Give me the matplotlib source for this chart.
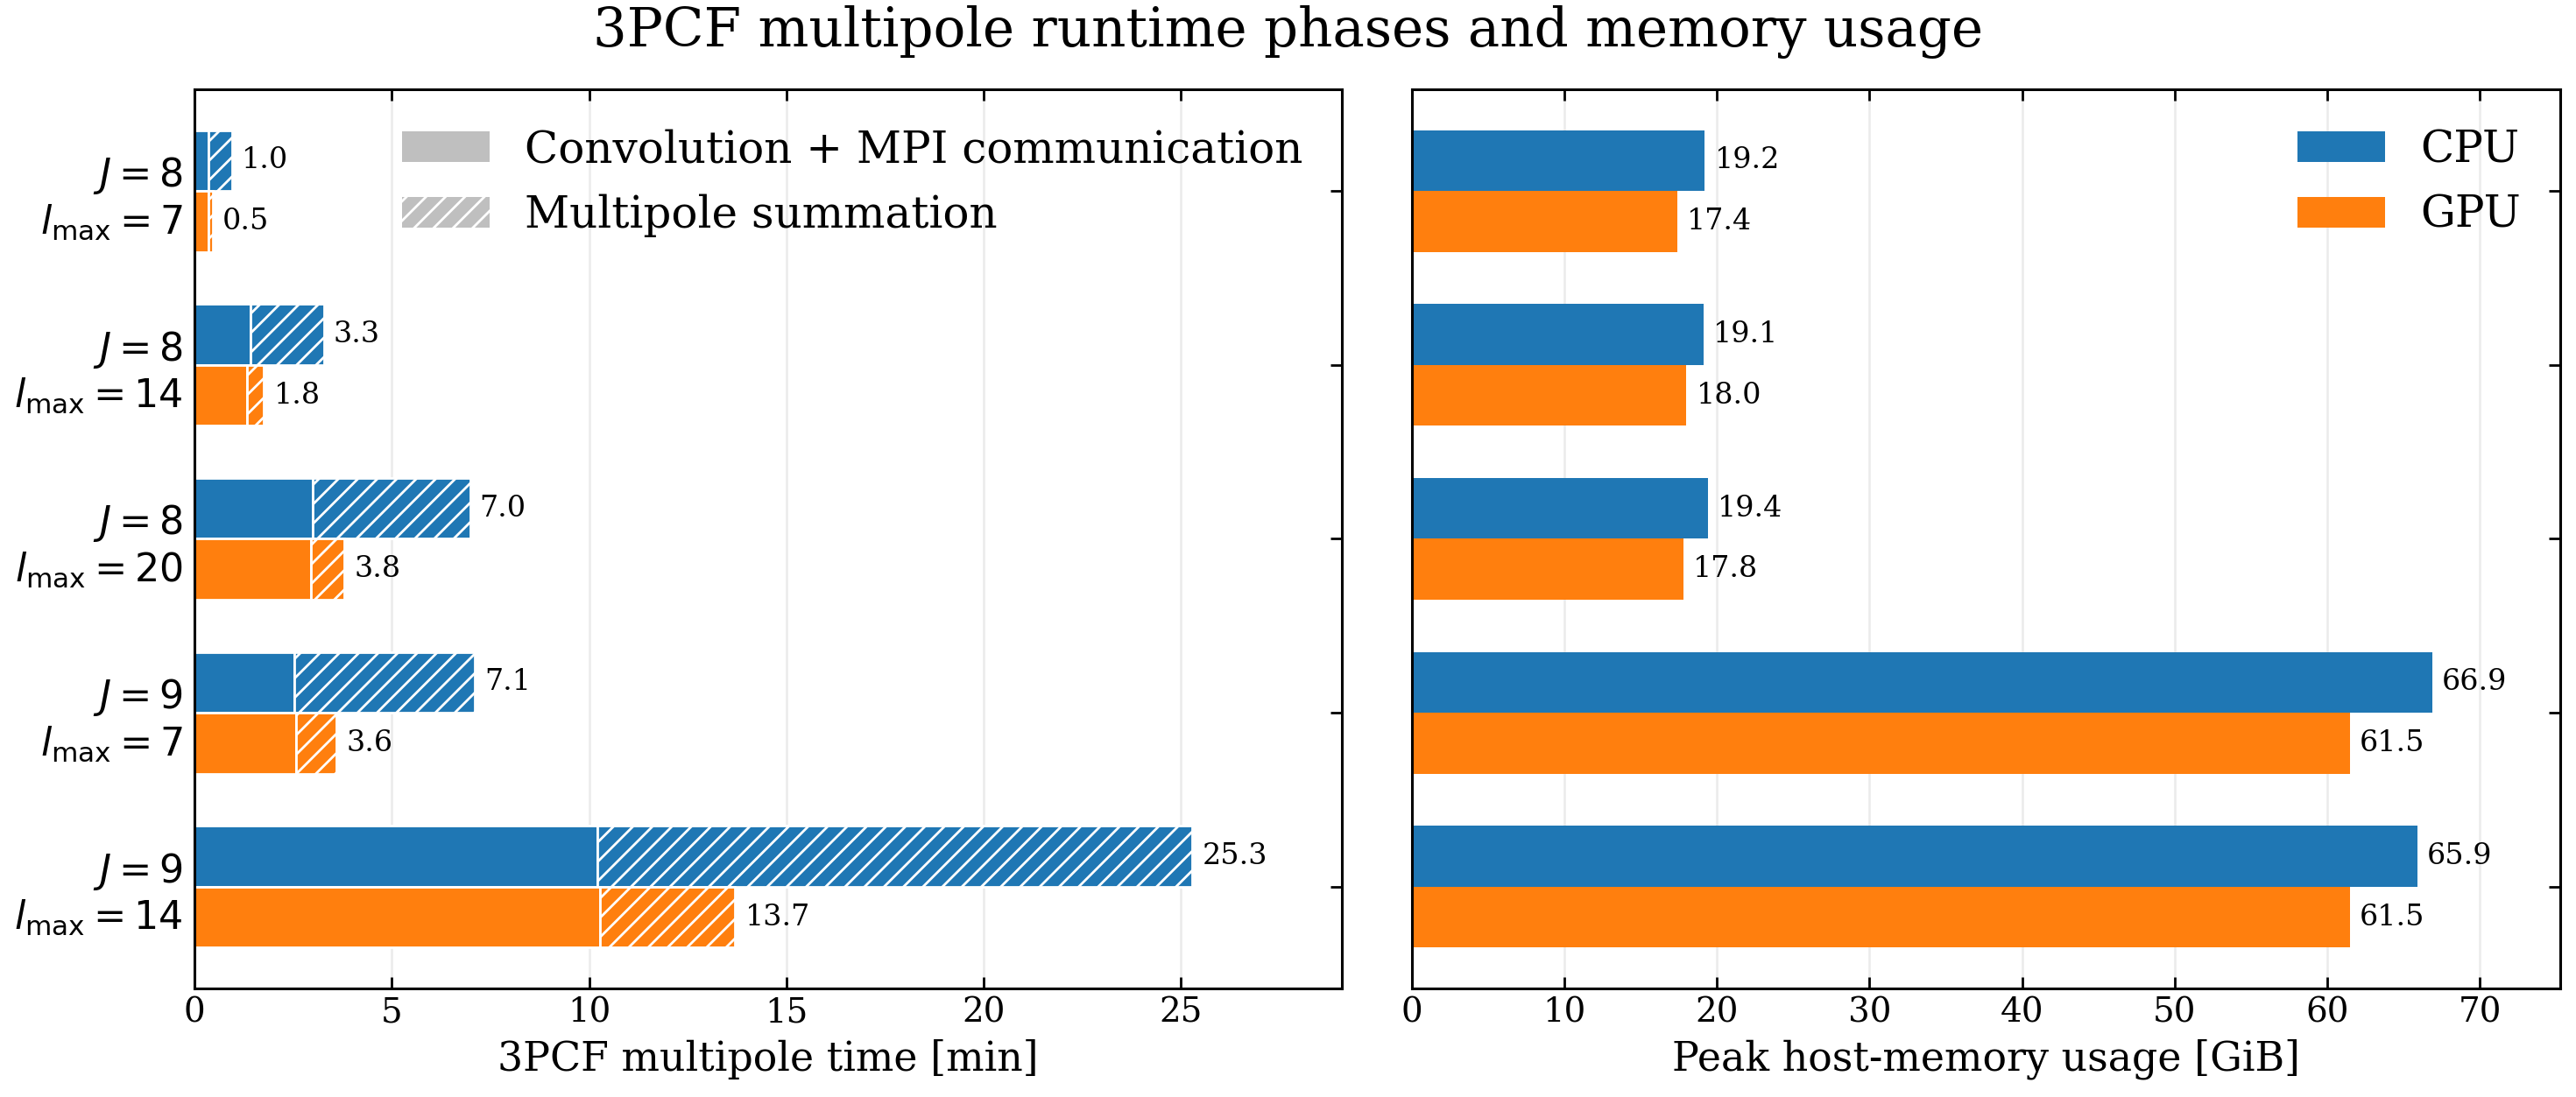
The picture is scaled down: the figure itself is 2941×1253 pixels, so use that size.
import matplotlib
matplotlib.use("Agg")
import matplotlib.pyplot as plt
import numpy as np
from matplotlib.patches import Patch

# ---- data ----
configs = ["$J = 8$\n$l_{\\max} = 7$", "$J = 8$\n$l_{\\max} = 14$", "$J = 8$\n$l_{\\max} = 20$",
           "$J = 9$\n$l_{\\max} = 7$", "$J = 9$\n$l_{\\max} = 14$"]
cpu_conv = [0.36, 1.41, 2.99, 2.52, 10.21]
cpu_summ = [0.60, 1.87, 3.99, 4.58, 15.07]
gpu_conv = [0.35, 1.32, 2.96, 2.57, 10.28]
gpu_summ = [0.11, 0.44, 0.84, 1.03, 3.42]
cpu_mem = [19.2, 19.1, 19.4, 66.9, 65.9]
gpu_mem = [17.4, 18.0, 17.8, 61.5, 61.5]

CPU_C = "#1f77b4"
GPU_C = "#ff7f0e"

plt.rcParams["font.family"] = ["DejaVu Serif"]
plt.rcParams["mathtext.fontset"] = "dejavusans"
plt.rcParams["hatch.color"] = "white"
plt.rcParams["hatch.linewidth"] = 1.0

fig = plt.figure(figsize=(2941 / 200, 1253 / 200), dpi=200)
ax1 = fig.add_axes([0.0755, 0.0990, 0.4454, 0.8196])
ax2 = fig.add_axes([0.5481, 0.0990, 0.4457, 0.8196], sharey=ax1)

y = np.arange(len(configs))
h = 0.35

cpu_tot = np.array(cpu_conv) + np.array(cpu_summ)
gpu_tot = np.array(gpu_conv) + np.array(gpu_summ)

ax1.barh(y - h / 2, cpu_conv, height=h, color=CPU_C, edgecolor="white", linewidth=1)
ax1.barh(y - h / 2, cpu_summ, left=cpu_conv, height=h, color=CPU_C, edgecolor="white",
         linewidth=1, hatch="///")
ax1.barh(y + h / 2, gpu_conv, height=h, color=GPU_C, edgecolor="white", linewidth=1)
ax1.barh(y + h / 2, gpu_summ, left=gpu_conv, height=h, color=GPU_C, edgecolor="white",
         linewidth=1, hatch="///")

for yi, v in zip(y, cpu_tot):
    ax1.annotate(f"{v:.1f}", (v, yi - h / 2), xytext=(4, 0), textcoords="offset points",
                 va="center", ha="left", fontsize=12)
for yi, v in zip(y, gpu_tot):
    ax1.annotate(f"{v:.1f}", (v, yi + h / 2), xytext=(4, 0), textcoords="offset points",
                 va="center", ha="left", fontsize=12)

ax1.set_xlim(0, cpu_tot.max() * 1.15)
ax1.set_yticks(y)
ax1.set_yticklabels(configs)
ax1.invert_yaxis()
ax1.set_xlabel("3PCF multipole time [min]", fontsize=16.5)

leg_handles = [Patch(facecolor="#bfbfbf", edgecolor="white", linewidth=0, label="Convolution + MPI communication"),
               Patch(facecolor="#bfbfbf", edgecolor="white", hatch="///", linewidth=0, label="Multipole summation")]
ax1.legend(handles=leg_handles, loc="upper right", frameon=False, fontsize=18)

# right panel
ax2.barh(y - h / 2, cpu_mem, height=h, color=CPU_C, label="CPU")
ax2.barh(y + h / 2, gpu_mem, height=h, color=GPU_C, label="GPU")
for yi, v in zip(y, cpu_mem):
    ax2.annotate(f"{v:.1f}", (v, yi - h / 2), xytext=(4, 0), textcoords="offset points",
                 va="center", ha="left", fontsize=12)
for yi, v in zip(y, gpu_mem):
    ax2.annotate(f"{v:.1f}", (v, yi + h / 2), xytext=(4, 0), textcoords="offset points",
                 va="center", ha="left", fontsize=12)
ax2.set_xlim(0, max(cpu_mem) * 1.125)
ax2.set_xlabel("Peak host-memory usage [GiB]", fontsize=16.5)
ax2.legend(loc="upper right", frameon=False, fontsize=18)

for ax in (ax1, ax2):
    ax.set_axisbelow(True)
    ax.grid(axis="x", color="#ebebeb", linewidth=0.9)
    ax.tick_params(direction="in", length=4.7, width=1.0, top=True, right=True)
    ax.tick_params(axis="x", labelsize=14)
    ax.tick_params(axis="y", pad=5, labelsize=16)
    for s in ax.spines.values():
        s.set_linewidth(1.1)
ax2.tick_params(axis="y", labelleft=False)

fig.suptitle("3PCF multipole runtime phases and memory usage", fontsize=22, y=0.995)
fig.savefig("out.png", dpi=200)
